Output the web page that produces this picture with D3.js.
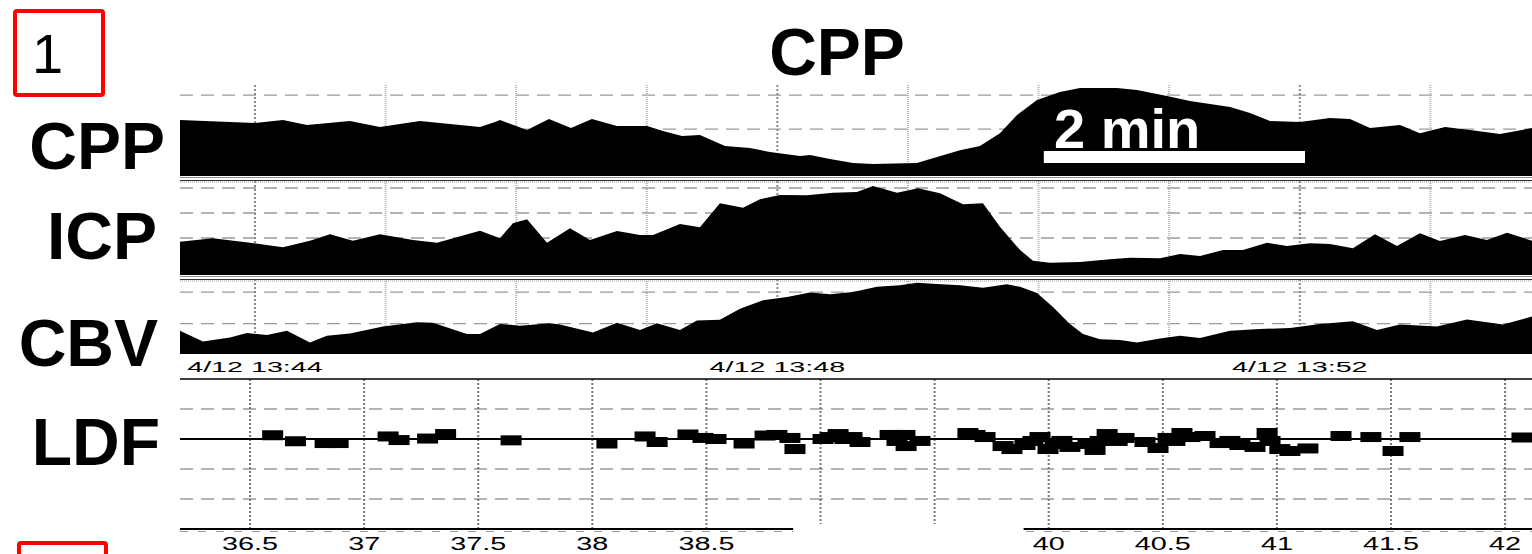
<!DOCTYPE html>
<html>
<head>
<meta charset="utf-8">
<script src="https://cdn.jsdelivr.net/npm/d3@7"></script>
<style>
  body { margin: 0; background: #fff; }
  svg { display: block; font-family: "Liberation Sans", Arial, sans-serif; }
</style>
</head>
<body>
<svg id="chart"></svg>
<script>
// time in minutes after 13:44
var cppTime = [-0.574, 0, 0.214, 0.398, 0.727, 0.957, 1.263, 1.570, 1.723, 1.838, 1.876, 2.083, 2.251, 2.420, 2.580, 2.772, 3.002, 3.124, 3.270, 3.407, 3.599, 3.790, 3.943, 4.173, 4.250, 4.403, 4.579, 4.732, 5.069, 5.145, 5.398, 5.551, 5.704, 5.835, 5.988, 6.164, 6.317, 6.600, 6.753, 6.983, 7.159, 7.466, 7.619, 7.772, 8.002, 8.231, 8.384, 8.538, 8.767, 8.920, 9.112, 9.303, 9.533, 9.778];
var cppValue = [65.3, 63.5, 65.3, 62.4, 64.7, 61.2, 64.7, 62.4, 61.2, 64.1, 65.3, 59.4, 65.9, 60.6, 65.9, 61.8, 61.8, 58.8, 55.9, 56.5, 50.0, 48.8, 46.5, 44.1, 44.7, 42.4, 40.0, 39.4, 40.0, 41.8, 47.6, 50.0, 57.6, 68.2, 77.1, 81.8, 84.1, 84.1, 82.9, 79.4, 76.5, 72.9, 69.4, 64.7, 64.1, 66.5, 65.9, 60.6, 62.4, 57.6, 61.2, 59.4, 57.1, 60.6];

var icpTime = [-0.574, -0.322, -0.038, 0.214, 0.421, 0.574, 0.750, 0.957, 1.210, 1.394, 1.723, 1.876, 1.975, 2.083, 2.236, 2.412, 2.565, 2.772, 2.948, 3.048, 3.254, 3.407, 3.560, 3.737, 3.867, 4.020, 4.227, 4.426, 4.609, 4.732, 4.916, 5.077, 5.245, 5.421, 5.574, 5.704, 5.858, 5.957, 6.087, 6.317, 6.547, 6.700, 6.930, 7.083, 7.236, 7.412, 7.565, 7.749, 7.902, 8.078, 8.231, 8.407, 8.576, 8.744, 8.920, 9.073, 9.265, 9.433, 9.587, 9.778];
var icpValue = [18.5, 19.9, 18.1, 16.3, 18.9, 21.5, 18.9, 21.5, 19.2, 18.1, 22.9, 19.9, 25.9, 27.5, 18.1, 23.9, 19.2, 22.8, 21.2, 21.2, 25.6, 24.3, 33.9, 32.1, 35.5, 37.2, 37.1, 38.1, 38.4, 40.8, 38.1, 39.9, 37.9, 33.5, 33.9, 24.5, 15.2, 10.9, 10.1, 10.4, 11.5, 12.1, 11.9, 13.6, 12.8, 15.2, 15.2, 18.1, 16.8, 17.9, 17.6, 15.9, 21.5, 16.8, 21.9, 18.8, 21.2, 19.2, 22.1, 18.9];

var cbvTime = [-0.574, -0.398, -0.191, -0.061, 0.092, 0.245, 0.421, 0.551, 0.727, 0.980, 1.240, 1.363, 1.623, 1.723, 1.876, 2.029, 2.259, 2.335, 2.588, 2.772, 2.948, 3.078, 3.254, 3.384, 3.560, 3.714, 3.890, 4.074, 4.250, 4.403, 4.579, 4.763, 4.939, 5.069, 5.222, 5.398, 5.574, 5.758, 5.858, 5.988, 6.110, 6.240, 6.340, 6.470, 6.623, 6.753, 6.930, 7.083, 7.236, 7.466, 7.695, 7.925, 8.155, 8.407, 8.591, 8.767, 9.050, 9.280, 9.556, 9.778];
var cbvValue = [35.5, 28.6, 31.2, 34.0, 32.7, 35.5, 27.9, 32.3, 33.7, 38.1, 40.8, 40.5, 33.4, 33.4, 39.8, 38.7, 40.2, 39.4, 34.4, 40.5, 35.9, 40.2, 35.9, 41.9, 42.4, 49.5, 54.8, 57.0, 59.8, 58.7, 60.2, 63.4, 64.5, 66.0, 65.2, 64.5, 62.8, 65.0, 63.4, 59.5, 50.5, 39.8, 33.4, 30.1, 29.5, 27.9, 30.5, 32.3, 30.8, 35.5, 36.6, 37.2, 39.8, 41.5, 35.9, 39.4, 38.1, 42.6, 39.4, 44.5];

// LDF samples on the lower recorder's own axis
var ldfPos = [36.599, 36.699, 36.829, 36.886, 37.105, 37.153, 37.278, 37.357, 37.644, 38.064, 38.231, 38.284, 38.419, 38.485, 38.542, 38.665, 38.757, 38.809, 38.866, 38.888, 39.011, 39.042, 39.077, 39.107, 39.138, 39.173, 39.305, 39.335, 39.370, 39.375, 39.436, 39.646, 39.677, 39.721, 39.800, 39.839, 39.896, 39.931, 39.962, 39.997, 40.028, 40.058, 40.093, 40.172, 40.203, 40.225, 40.256, 40.300, 40.330, 40.422, 40.479, 40.523, 40.553, 40.584, 40.619, 40.685, 40.751, 40.794, 40.838, 40.904, 40.957, 40.970, 41.013, 41.057, 41.136, 41.281, 41.412, 41.509, 41.583, 42.074];
var ldfValue = [2.5, -1.5, -2.7, -2.7, 1.7, -0.7, 0.3, 3.3, -0.9, -3.0, 1.7, -2.0, 3.0, 0.7, 0.0, -3.0, 2.3, 2.7, 0.7, -6.7, 0.0, 1.3, 3.3, 0.0, 1.3, -2.0, 2.7, -1.3, 2.7, -4.7, -1.3, 4.0, 2.7, 1.3, -4.7, -6.7, -4.0, -1.3, 1.3, -6.7, -3.3, -1.3, -5.3, -3.3, -7.3, -1.3, 3.3, -1.3, 0.7, -2.0, -6.0, 0.7, -1.3, 4.0, 1.3, 2.0, -2.7, -1.3, -4.0, -5.3, 4.0, -1.3, -6.7, -8.0, -6.3, 2.0, 1.3, -8.0, 1.3, 1.0];

var ldfTicks = [36.5, 37, 37.5, 38, 38.5, 39, 39.5, 40, 40.5, 41, 41.5, 42];
var ldfGap = [38.88, 39.89];   // part of the lower axis hidden in the figure
var scaleBarStart = 6.04, scaleBarMinutes = 2;

var W = 1532, H = 554;
var svg = d3.select("#chart").attr("width", W).attr("height", H);

var t0 = new Date(2012, 3, 12, 13, 44);
function toDate(m) { return new Date(t0.getTime() + m * 60000); }

var x = d3.scaleTime()
  .domain([toDate(-0.574), toDate(9.778)])
  .range([180, 1532]);

var panels = [
  { name: "CPP", time: cppTime, values: cppValue, domain: [32.4, 85.9], top: 85, bottom: 176, grid: [80, 60], lx: 165, ly: 169 },
  { name: "ICP", time: icpTime, values: icpValue, domain: [5.2, 42.8], top: 181, bottom: 275, grid: [40, 30, 20], lx: 157, ly: 259 },
  { name: "CBV", time: cbvTime, values: cbvValue, domain: [20.65, 68.4], top: 279, bottom: 354, grid: [60, 40], lx: 158, ly: 366 }
];

var minutes = d3.timeMinute.range(toDate(0), toDate(9.9));

panels.forEach(function(p) {
  var y = d3.scaleLinear().domain(p.domain).range([p.bottom, p.top]);
  var g = svg.append("g");

  // dashed level lines
  g.selectAll(".h").data(p.grid).enter().append("line")
    .attr("x1", 180).attr("x2", W)
    .attr("y1", function(d) { return y(d); }).attr("y2", function(d) { return y(d); })
    .attr("stroke", "#9a9a9a").attr("stroke-width", 1.3)
    .attr("stroke-dasharray", "13,8");

  // minute lines
  g.selectAll(".v").data(minutes).enter().append("line")
    .attr("x1", function(d) { return x(d); }).attr("x2", function(d) { return x(d); })
    .attr("y1", p.top).attr("y2", p.bottom)
    .attr("stroke", function(d) { return d.getMinutes() % 4 === 0 ? "#8a8a8a" : "#b5b5b5"; })
    .attr("stroke-width", 2)
    .attr("stroke-dasharray", function(d) { return d.getMinutes() % 4 === 0 ? "2,2" : "1,1"; });

  var rows = p.time.map(function(t, i) { return [toDate(t), p.values[i]]; });
  var area = d3.area()
    .x(function(d) { return x(d[0]); })
    .y0(p.bottom)
    .y1(function(d) { return y(d[1]); });

  g.append("path").datum(rows)
    .attr("d", area)
    .attr("fill", "#000");

  svg.append("text")
    .attr("x", p.lx).attr("y", p.ly)
    .attr("text-anchor", "end")
    .attr("font-size", 66).attr("font-weight", "bold")
    .text(p.name);
});

// separators between the upper traces
[176, 275].forEach(function(b) {
  svg.append("line").attr("x1", 180).attr("x2", W).attr("y1", b + 1.5).attr("y2", b + 1.5)
    .attr("stroke", "#8c8c8c").attr("stroke-width", 1);
  svg.append("line").attr("x1", 180).attr("x2", W).attr("y1", b + 4.5).attr("y2", b + 4.5)
    .attr("stroke", "#333").attr("stroke-width", 1);
  svg.append("line").attr("x1", 180).attr("x2", W).attr("y1", b + 6).attr("y2", b + 6)
    .attr("stroke", "#999").attr("stroke-width", 1).attr("stroke-dasharray", "1,1");
});

// clock labels
var fmt = d3.timeFormat("%-m/%d %H:%M");
svg.selectAll(".clock").data(minutes.filter(function(d) { return d.getMinutes() % 4 === 0; }))
  .enter().append("text")
  .attr("transform", function(d) { return "translate(" + x(d) + ",372) scale(2.05,1)"; })
  .attr("text-anchor", "middle")
  .attr("font-size", 14)
  .text(fmt);

// scale bar
svg.append("rect")
  .attr("x", x(toDate(scaleBarStart)))
  .attr("y", 151)
  .attr("width", x(toDate(scaleBarStart + scaleBarMinutes)) - x(toDate(scaleBarStart)))
  .attr("height", 12)
  .attr("fill", "#fff");
svg.append("text")
  .attr("x", 1054).attr("y", 148)
  .attr("font-size", 56).attr("font-weight", "bold")
  .attr("fill", "#fff")
  .text(scaleBarMinutes + " min");

// LDF recorder
var lx = d3.scaleLinear().domain([36.193, 42.118]).range([180, 1532]);
var ly = d3.scaleLinear().domain([-60, 40]).range([529, 379]);

svg.selectAll(".ldfgrid").data([20, -20, -40]).enter().append("line")
  .attr("x1", 180).attr("x2", W)
  .attr("y1", function(d) { return ly(d); }).attr("y2", function(d) { return ly(d); })
  .attr("stroke", "#9a9a9a").attr("stroke-width", 1.3)
  .attr("stroke-dasharray", "13,8");

svg.append("line").attr("x1", 180).attr("x2", W).attr("y1", ly(-60) + 2.5).attr("y2", ly(-60) + 2.5)
  .attr("stroke", "#9a9a9a").attr("stroke-width", 1).attr("stroke-dasharray", "8,10");

svg.selectAll(".ldfv").data(ldfTicks).enter().append("line")
  .attr("x1", function(d) { return lx(d); }).attr("x2", function(d) { return lx(d); })
  .attr("y1", ly(40)).attr("y2", ly(-60))
  .attr("stroke", "#777").attr("stroke-width", 2)
  .attr("stroke-dasharray", "2,2");

svg.append("line").attr("x1", 180).attr("x2", W).attr("y1", ly(40)).attr("y2", ly(40))
  .attr("stroke", "#000").attr("stroke-width", 1.5);
svg.append("line").attr("x1", 180).attr("x2", W).attr("y1", ly(0)).attr("y2", ly(0))
  .attr("stroke", "#000").attr("stroke-width", 2);

svg.selectAll(".ldf").data(ldfPos).enter().append("rect")
  .attr("x", function(d) { return lx(d) - 10.5; })
  .attr("y", function(d, i) { return ly(ldfValue[i]) - 5; })
  .attr("width", 21).attr("height", 10)
  .attr("fill", "#000");

svg.append("line").attr("x1", 180).attr("x2", W).attr("y1", ly(-60)).attr("y2", ly(-60))
  .attr("stroke", "#000").attr("stroke-width", 2);

// hidden stretch of the lower axis
svg.append("rect")
  .attr("x", lx(ldfGap[0])).attr("y", ly(-60) - 5)
  .attr("width", lx(ldfGap[1]) - lx(ldfGap[0])).attr("height", H)
  .attr("fill", "#fff");

svg.selectAll(".ldflab").data(ldfTicks.filter(function(d) { return d < ldfGap[0] || d > ldfGap[1]; }))
  .enter().append("text")
  .attr("transform", function(d) { return "translate(" + lx(d) + ",550) scale(1.6,1)"; })
  .attr("text-anchor", "middle")
  .attr("font-size", 18)
  .text(function(d) { return d; });

svg.append("text")
  .attr("x", 160).attr("y", 465)
  .attr("text-anchor", "end")
  .attr("font-size", 66).attr("font-weight", "bold")
  .text("LDF");

// title and panel markers
svg.append("text")
  .attr("x", 837).attr("y", 75)
  .attr("text-anchor", "middle")
  .attr("font-size", 66).attr("font-weight", "bold")
  .text("CPP");

svg.append("rect")
  .attr("x", 15).attr("y", 11).attr("width", 88).attr("height", 84).attr("rx", 2)
  .attr("fill", "none").attr("stroke", "#ff0000").attr("stroke-width", 4);
svg.append("text")
  .attr("x", 32).attr("y", 73)
  .attr("font-size", 56)
  .text("1");
svg.append("rect")
  .attr("x", 19).attr("y", 543).attr("width", 87).attr("height", 84).attr("rx", 2)
  .attr("fill", "none").attr("stroke", "#ff0000").attr("stroke-width", 4);
</script>
</body>
</html>
